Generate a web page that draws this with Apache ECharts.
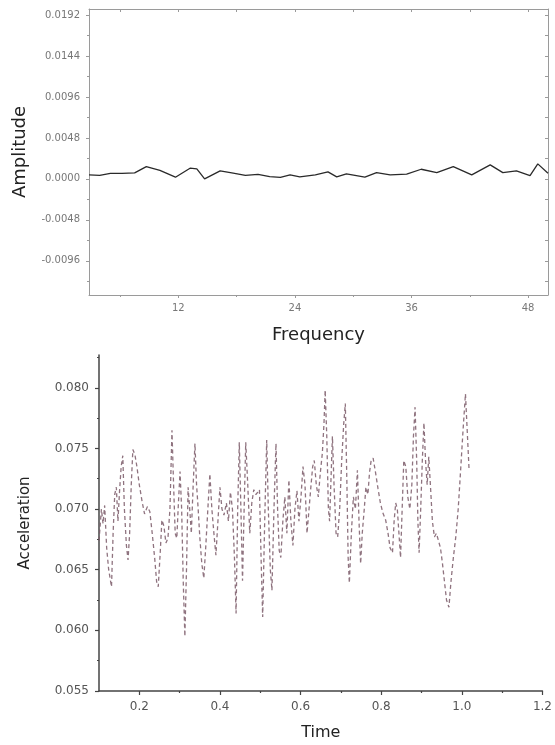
<!DOCTYPE html>
<html>
<head>
<meta charset="utf-8">
<script src="https://cdn.jsdelivr.net/npm/echarts@6/dist/echarts.min.js"></script>
<style>
html,body{margin:0;padding:0;background:#fff;}
#c{width:555px;height:745px;}
</style>
</head>
<body>
<div id="c"></div>
<script>
// ---- Top chart (spectrum) ----
var freq = [2.8, 3.9, 5.0, 6.2, 7.5, 8.7, 10.1, 11.7, 13.2, 13.9, 14.7, 16.3, 17.5, 18.9, 20.2, 21.4, 22.5, 23.5, 24.5, 26.1, 27.4, 28.3, 29.3, 31.2, 32.4, 33.8, 35.5, 37.0, 38.6, 40.3, 42.2, 44.1, 45.4, 46.8, 48.2, 49.0, 50.05];
var amp = [0.00047, 0.00041, 0.00064, 0.00064, 0.00070, 0.00144, 0.00100, 0.00020, 0.00125, 0.00117, 0.00000, 0.00094, 0.00070, 0.00041, 0.00053, 0.00027, 0.00018, 0.00047, 0.00023, 0.00047, 0.00082, 0.00023, 0.00059, 0.00020, 0.00074, 0.00047, 0.00055, 0.00113, 0.00074, 0.00144, 0.00047, 0.00164, 0.00074, 0.00094, 0.00039, 0.00176, 0.00067];
var ampTicks = [-0.0096, -0.0048, 0.0000, 0.0048, 0.0096, 0.0144, 0.0192];
var ampMinor = [-0.0120, -0.0072, -0.0024, 0.0024, 0.0072, 0.0120, 0.0168];
var freqTicks = [12, 24, 36, 48];
var freqMinor = [6, 18, 30, 42];

// ---- Bottom chart (time signal) ----
var time = [0.100,0.106,0.110,0.114,0.119,0.124,0.131,0.135,0.139,0.143,0.147,0.151,0.155,0.159,0.163,0.168,0.172,0.176,0.180,0.184,0.189,0.194,0.200,0.207,0.213,0.220,0.226,0.232,0.238,0.243,0.247,0.252,0.256,0.261,0.266,0.271,0.276,0.281,0.285,0.289,0.293,0.297,0.301,0.305,0.309,0.313,0.317,0.321,0.325,0.329,0.333,0.338,0.342,0.346,0.350,0.355,0.360,0.365,0.370,0.375,0.380,0.385,0.390,0.395,0.400,0.405,0.410,0.416,0.421,0.426,0.431,0.436,0.440,0.444,0.448,0.452,0.456,0.460,0.464,0.469,0.474,0.479,0.484,0.489,0.494,0.498,0.502,0.506,0.511,0.516,0.520,0.525,0.529,0.534,0.539,0.543,0.547,0.551,0.556,0.561,0.566,0.571,0.576,0.581,0.586,0.591,0.596,0.601,0.606,0.611,0.616,0.621,0.626,0.630,0.634,0.639,0.644,0.649,0.654,0.658,0.661,0.665,0.669,0.672,0.676,0.679,0.683,0.688,0.692,0.697,0.702,0.707,0.711,0.715,0.718,0.721,0.726,0.731,0.736,0.741,0.745,0.749,0.753,0.758,0.762,0.767,0.771,0.775,0.780,0.786,0.792,0.798,0.804,0.811,0.817,0.822,0.828,0.832,0.836,0.840,0.844,0.848,0.852,0.856,0.861,0.866,0.871,0.876,0.880,0.884,0.888,0.891,0.894,0.898,0.902,0.906,0.910,0.914,0.918,0.922,0.927,0.932,0.937,0.942,0.947,0.952,0.957,0.962,0.968,0.973,0.979,0.985,0.991,0.997,1.003,1.009,1.014,1.018];
var accel = [0.0674,0.0700,0.0688,0.0703,0.0668,0.0650,0.0636,0.0680,0.0712,0.0718,0.0690,0.0715,0.0735,0.0744,0.0700,0.0670,0.0658,0.0680,0.0720,0.0749,0.0745,0.0735,0.0720,0.0706,0.0696,0.0702,0.0698,0.0680,0.0660,0.0640,0.0636,0.0665,0.0691,0.0686,0.0672,0.0676,0.0700,0.0765,0.0720,0.0680,0.0676,0.0705,0.0731,0.0700,0.0640,0.0595,0.0650,0.0718,0.0700,0.0680,0.0715,0.0754,0.0720,0.0700,0.0677,0.0655,0.0643,0.0670,0.0700,0.0729,0.0700,0.0680,0.0662,0.0690,0.0718,0.0700,0.0695,0.0705,0.0690,0.0714,0.0700,0.0660,0.0614,0.0700,0.0755,0.0700,0.0641,0.0700,0.0755,0.0720,0.0680,0.0705,0.0716,0.0712,0.0714,0.0716,0.0660,0.0611,0.0690,0.0757,0.0700,0.0650,0.0633,0.0700,0.0754,0.0700,0.0666,0.0660,0.0690,0.0710,0.0680,0.0724,0.0690,0.0670,0.0700,0.0715,0.0690,0.0710,0.0735,0.0720,0.0680,0.0700,0.0720,0.0735,0.0740,0.0720,0.0710,0.0730,0.0746,0.0770,0.0798,0.0760,0.0700,0.0690,0.0730,0.0760,0.0720,0.0680,0.0677,0.0700,0.0740,0.0770,0.0787,0.0720,0.0660,0.0639,0.0680,0.0710,0.0700,0.0732,0.0690,0.0655,0.0680,0.0700,0.0718,0.0712,0.0730,0.0740,0.0742,0.0730,0.0717,0.0705,0.0697,0.0691,0.0680,0.0668,0.0664,0.0690,0.0705,0.0700,0.0680,0.0660,0.0700,0.0740,0.0735,0.0710,0.0700,0.0720,0.0760,0.0784,0.0740,0.0690,0.0664,0.0700,0.0740,0.0771,0.0740,0.0720,0.0743,0.0720,0.0690,0.0677,0.0680,0.0674,0.0668,0.0655,0.0640,0.0625,0.0619,0.0640,0.0660,0.0677,0.0700,0.0732,0.0765,0.0795,0.0760,0.0732];
var accTicks = [0.055, 0.060, 0.065, 0.070, 0.075, 0.080];
var accMinor = [0.0575, 0.0625, 0.0675, 0.0725, 0.0775, 0.0825];
var timeTicks = [0.2, 0.4, 0.6, 0.8, 1.0, 1.2];
var timeMinor = [0.3, 0.5, 0.7, 0.9, 1.1];

var FONT = 'DejaVu Sans, Verdana, sans-serif';

function zip(a, b) { var r = []; for (var i = 0; i < a.length; i++) r.push([a[i], b[i]]); return r; }

var topLine = { color: '#9a9a9a', width: 1 };
var botLine = { color: '#444', width: 1.5 };
var botTick = { color: '#444', width: 1.2 };

var xAxes = [
  { gridIndex: 0, type: 'value', min: 2.8, max: 50.05, position: 'bottom',
    axisLine: { onZero: false, lineStyle: topLine },
    axisTick: { customValues: freqTicks, length: 3, lineStyle: topLine },
    axisLabel: { customValues: freqTicks, color: '#777', fontSize: 10, fontFamily: FONT, margin: 8 },
    splitLine: { show: false },
    name: 'Frequency', nameLocation: 'middle', nameGap: 31,
    nameTextStyle: { fontSize: 18, color: '#222', fontFamily: FONT } },
  { gridIndex: 0, type: 'value', min: 2.8, max: 50.05, position: 'bottom',
    axisLine: { show: false, onZero: false },
    axisTick: { customValues: freqMinor, length: 2, lineStyle: topLine },
    axisLabel: { show: false }, splitLine: { show: false } },
  { gridIndex: 0, type: 'value', min: 2.8, max: 50.05, position: 'top',
    axisLine: { onZero: false, lineStyle: topLine },
    axisTick: { inside: true, customValues: freqTicks.concat(freqMinor), length: 3, lineStyle: topLine },
    axisLabel: { show: false }, splitLine: { show: false } },
  { gridIndex: 1, type: 'value', min: 0.1, max: 1.2, position: 'bottom',
    axisLine: { onZero: false, lineStyle: botLine },
    axisTick: { customValues: timeTicks, length: 4, lineStyle: botTick },
    axisLabel: { customValues: timeTicks, color: '#555', fontSize: 12, fontFamily: FONT, margin: 10,
      formatter: function (v) { return v.toFixed(1); } },
    splitLine: { show: false },
    name: 'Time', nameLocation: 'middle', nameGap: 34,
    nameTextStyle: { fontSize: 16, color: '#222', fontFamily: FONT } },
  { gridIndex: 1, type: 'value', min: 0.1, max: 1.2, position: 'bottom',
    axisLine: { show: false, onZero: false },
    axisTick: { customValues: timeMinor, length: 2, lineStyle: botTick },
    axisLabel: { show: false }, splitLine: { show: false } }
];

var yAxes = [
  { gridIndex: 0, type: 'value', min: -0.0136, max: 0.0199, position: 'left',
    axisLine: { show: true, onZero: false, lineStyle: topLine },
    axisTick: { show: true, customValues: ampTicks, length: 3, lineStyle: topLine },
    axisLabel: { customValues: ampTicks, color: '#777', fontSize: 10, fontFamily: FONT, margin: 9,
      formatter: function (v) { return v.toFixed(4); } },
    splitLine: { show: false },
    name: 'Amplitude', nameLocation: 'middle', nameGap: 60,
    nameTextStyle: { fontSize: 18, color: '#222', fontFamily: FONT } },
  { gridIndex: 0, type: 'value', min: -0.0136, max: 0.0199, position: 'left',
    axisLine: { show: false, onZero: false },
    axisTick: { show: true, customValues: ampMinor, length: 2, lineStyle: topLine },
    axisLabel: { show: false }, splitLine: { show: false } },
  { gridIndex: 0, type: 'value', min: -0.0136, max: 0.0199, position: 'right',
    axisLine: { show: true, onZero: false, lineStyle: topLine },
    axisTick: { show: true, inside: true, customValues: ampTicks.concat(ampMinor), length: 3, lineStyle: topLine },
    axisLabel: { show: false }, splitLine: { show: false } },
  { gridIndex: 1, type: 'value', min: 0.055, max: 0.0827, position: 'left',
    axisLine: { show: true, onZero: false, lineStyle: botLine },
    axisTick: { show: true, customValues: accTicks, length: 4, lineStyle: botTick },
    axisLabel: { customValues: accTicks, color: '#555', fontSize: 12, fontFamily: FONT, margin: 10,
      formatter: function (v) { return v.toFixed(3); } },
    splitLine: { show: false },
    name: 'Acceleration', nameLocation: 'middle', nameGap: 66,
    nameTextStyle: { fontSize: 15, color: '#222', fontFamily: FONT } },
  { gridIndex: 1, type: 'value', min: 0.055, max: 0.0827, position: 'left',
    axisLine: { show: false, onZero: false },
    axisTick: { show: true, customValues: accMinor, length: 2, lineStyle: botTick },
    axisLabel: { show: false }, splitLine: { show: false } }
];

var chart = echarts.init(document.getElementById('c'), null, { renderer: 'canvas' });
chart.setOption({
  backgroundColor: '#fff',
  animation: false,
  grid: [
    { left: 89, top: 9, width: 459, height: 286 },
    { left: 99, top: 355, width: 444, height: 336 }
  ],
  xAxis: xAxes,
  yAxis: yAxes,
  series: [
    { type: 'line', xAxisIndex: 0, yAxisIndex: 0, data: zip(freq, amp),
      showSymbol: false, symbol: 'none',
      lineStyle: { color: '#2a2a2a', width: 1.3 } },
    { type: 'line', xAxisIndex: 3, yAxisIndex: 3, data: zip(time, accel),
      showSymbol: false, symbol: 'none',
      lineStyle: { color: '#7b5a68', width: 1.3, opacity: 0.85, type: [4, 3] } }
  ]
});
</script>
</body>
</html>
